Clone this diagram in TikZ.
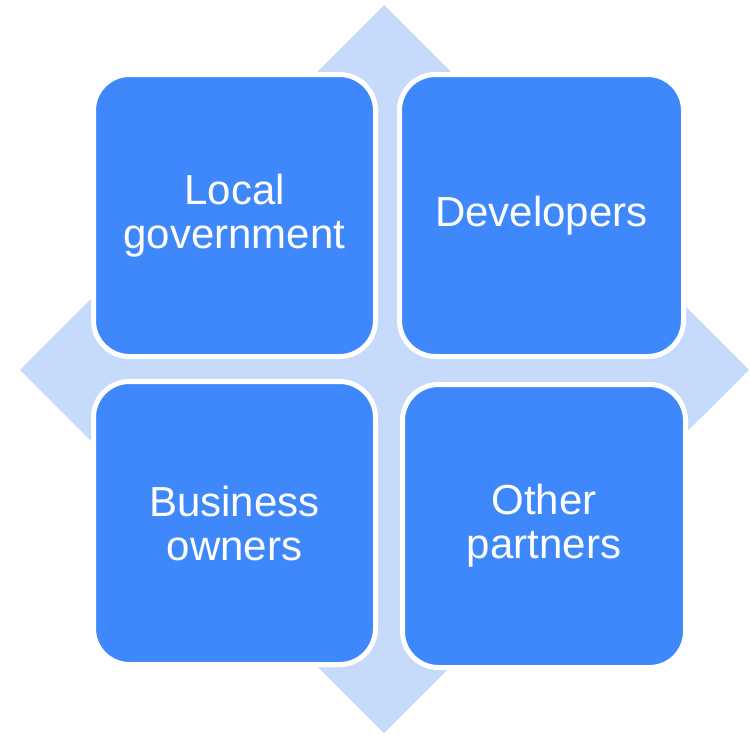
\documentclass[tikz,border=0pt]{standalone}
\usepackage{fontspec}
\setmainfont{Liberation Sans}
\definecolor{boxblue}{RGB}{63,136,252}
\definecolor{diamondblue}{RGB}{198,218,251}
\begin{document}
\begin{tikzpicture}[x=1pt,y=-1pt,
  quad/.style={draw=white, line width=5pt, fill=boxblue, rounded corners=36pt,
    text=white, align=center, font=\fontsize{42}{44}\selectfont,
    inner sep=0pt, outer sep=0pt}]
\useasboundingbox (0,0) rectangle (750,734);
\fill[diamondblue] (384,5) -- (749,370) -- (384,733) -- (20,370) -- cycle;
\node[quad, minimum width=282pt, minimum height=282pt] (lg) at (234.5,215.5) {Local\\government};
\node[quad, minimum width=284pt, minimum height=282pt] (dev) at (541.5,215.5) {Developers};
\node[quad, minimum width=282pt, minimum height=283pt] (bo) at (234.5,523) {Business\\owners};
\node[quad, minimum width=283pt, minimum height=283pt] (op) at (544,526) {Other\\partners};
\end{tikzpicture}
\end{document}
